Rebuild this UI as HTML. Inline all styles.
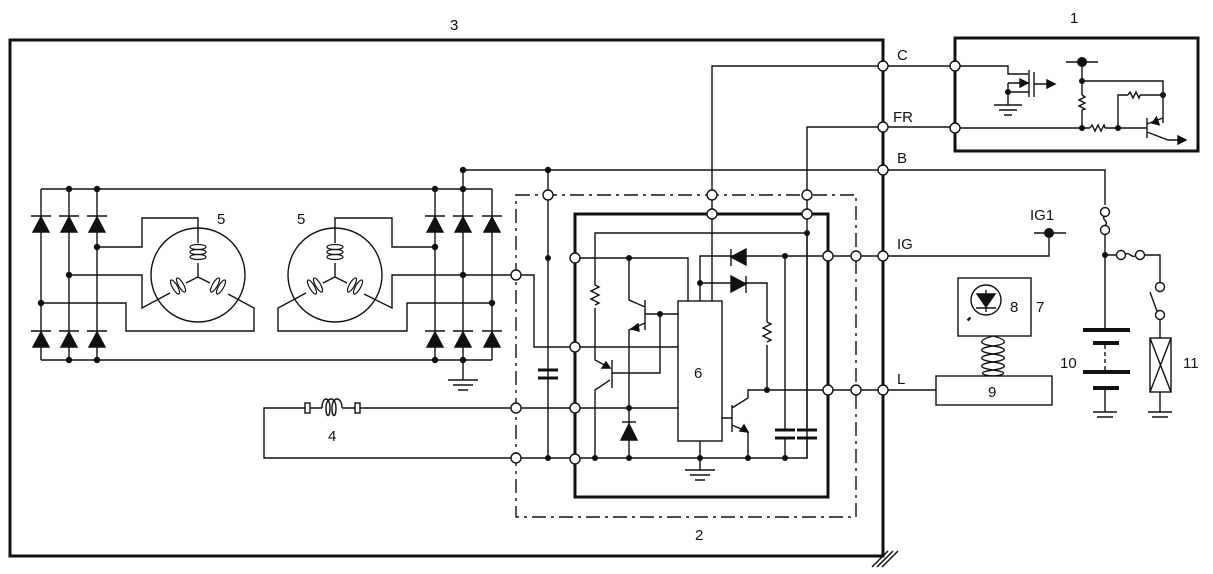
<!DOCTYPE html>
<html><head><meta charset="utf-8"><style>
html,body{margin:0;padding:0;background:#fff;}
svg{display:block;}
text{font-family:"Liberation Sans",sans-serif;font-size:15px;fill:#111;}
</style></head><body>
<svg width="1213" height="574" viewBox="0 0 1213 574" xmlns="http://www.w3.org/2000/svg">
<g fill="none" stroke="#111" stroke-width="1.4">
<rect x="10" y="40" width="873" height="516" stroke-width="3"/>
<path d="M877 567 L893 551 M882 567 L898 551 M872 567 L888 551" stroke-width="1.5"/>
<rect x="955" y="38" width="243" height="113" stroke-width="3"/>
<rect x="516" y="195" width="340" height="322" stroke-dasharray="14,5,3,5"/>
<rect x="575" y="214" width="253" height="283" stroke-width="3"/>

<path d="M712 301 V66 H953"/>
<path d="M807 214 V127 H953"/>
<path d="M463 189 V170 H1105 V205"/>
<path d="M883 256 H1049 V233 M1034 233 H1066"/>
<path d="M883 390 H936"/>

<path d="M41 189 H492 M41 360 H492"/>
<path d="M41 189 V360 M69 189 V360 M97 189 V360 M435 189 V360 M463 189 V360 M492 189 V360"/>
<path d="M463 360 V380 M448 380 H478 M453 385 H473 M458 390 H468"/>
<path d="M97 247 H142 V218 H198 V243"/>
<path d="M69 275 H142 V308 L170 293"/>
<path d="M41 303 H126 V331 H254 V308 L228 294"/>
<path d="M435 247 H392 V218 H335 V243"/>
<path d="M463 275 H392 V308 L364 294" />
<path d="M492 303 H407 V331 H278 V308 L306 293"/>
<path d="M463 275 H511"/>
<circle cx="198" cy="275" r="47"/>
<circle cx="335" cy="275" r="47"/>
<path d="M198 263 V277 L186 283 M198 277 L210 283"/>
<path d="M335 263 V277 L323 283 M335 277 L347 283"/>
<g stroke-width="1.2">
<ellipse cx="198" cy="247" rx="8" ry="2.5"/><ellipse cx="198" cy="252" rx="8" ry="2.5"/><ellipse cx="198" cy="257" rx="8" ry="2.5"/>
<ellipse cx="335" cy="247" rx="8" ry="2.5"/><ellipse cx="335" cy="252" rx="8" ry="2.5"/><ellipse cx="335" cy="257" rx="8" ry="2.5"/>
<ellipse cx="175" cy="287" rx="2.5" ry="8" transform="rotate(-30 175 287)"/><ellipse cx="181" cy="285" rx="2.5" ry="8" transform="rotate(-30 181 285)"/>
<ellipse cx="215" cy="285" rx="2.5" ry="8" transform="rotate(30 215 285)"/><ellipse cx="221" cy="287" rx="2.5" ry="8" transform="rotate(30 221 287)"/>
<ellipse cx="312" cy="287" rx="2.5" ry="8" transform="rotate(-30 312 287)"/><ellipse cx="318" cy="285" rx="2.5" ry="8" transform="rotate(-30 318 285)"/>
<ellipse cx="352" cy="285" rx="2.5" ry="8" transform="rotate(30 352 285)"/><ellipse cx="358" cy="287" rx="2.5" ry="8" transform="rotate(30 358 287)"/>
</g>
<path d="M511 408 H360 M305 408 H264 V458 H511"/>
<rect x="305" y="403" width="5" height="10"/><rect x="355" y="403" width="5" height="10"/>
<path d="M310 408 H322 M342 408 H355"/>
<path d="M322 408 C322 396 330 396 330 408 C330 418 326 418 326 408 C326 396 336 396 336 408 C336 418 332 418 332 408 C332 396 342 396 342 408"/>

<path d="M548 170 V458"/>
<path d="M538 370 H558 M538 378 H558" stroke-width="3"/>
<path d="M521 275 H534 V347 H678"/>
<path d="M521 408 H678 M521 458 H807 V233 H595 V285 M595 308 V360 L610 368 M612 360 V388 M610 380 L595 390 V458"/>
<path d="M595 285 l4 2 l-8 4 l8 4 l-8 4 l8 4 l-4 2"/>
<path d="M580 258 H688 V301"/>
<path d="M629 258 V300 L645 307 M645 300 V330 M645 323 L629 330 V458"/>
<path d="M645 314 H678 M660 314 V373 H612"/>
<rect x="678" y="301" width="44" height="140" fill="#fff"/>
<path d="M700 441 V470 M685 470 H715 M690 475 H710 M695 480 H705"/>
<path d="M883 256 H700 V301 M700 283 H767 V322 M767 345 V390"/>
<path d="M767 322 l4 2 l-8 4 l8 4 l-8 4 l8 4 l-4 2"/>
<path d="M883 390 H748 V398 L732 408 M732 405 V432 M722 418 H732 M732 425 L748 432 V458"/>
<path d="M785 256 V430 M785 438 V458"/>
<path d="M775 430 H795 M775 438 H795 M797 430 H817 M797 438 H817" stroke-width="3"/>
<path d="M807 438 V458 M807 214 V430"/>
<path d="M731 249 V266 M746 276 V293"/>
<path d="M622 422 H636"/>

<path d="M960 66 H1008 V74 H1028 M1029 70 V97 M1034 72 V97 M1034 84 H1048 M1008 83 H1028 M1008 83 V105 M1008 92 H1029 M994 105 H1022 M999 110 H1017 M1004 115 H1012"/>
<path d="M1066 62 H1098 M1082 62 V95 M1082 110 V128 M1082 81 H1163 V123 M960 128 H1090 M1105 128 H1147 M1118 128 V95 H1128 M1140 95 H1163 M1147 118 V138 M1147 132 L1168 140 H1180"/>
<path d="M1082 95 l3 2 l-6 3 l6 3 l-6 3 l6 3 l-3 1"/>
<path d="M1090 128 l2 -3 l3 6 l3 -6 l3 6 l3 -6 l1 3 M1128 95 l2 -3 l3 6 l3 -6 l3 6 l1 -3"/>
<path d="M1147 124 L1163 118"/>

<circle cx="1105" cy="212" r="4.5" fill="#fff"/><path d="M1105 216 C1100 219 1110 222 1105 225"/><circle cx="1105" cy="230" r="4.5" fill="#fff"/>
<path d="M1105 235 V330 M1105 255 H1117"/>
<circle cx="1121" cy="255" r="4.5" fill="#fff"/><path d="M1125 255 C1129 250 1132 260 1136 255"/><circle cx="1140" cy="255" r="4.5" fill="#fff"/>
<path d="M1145 255 H1160 V282"/>
<circle cx="1160" cy="287" r="4.5" fill="#fff"/><path d="M1158 314 L1150 292"/><circle cx="1160" cy="315" r="4.5" fill="#fff"/>
<path d="M1160 320 V338 M1160 392 V412 M1148 412 H1172 M1152 417 H1168"/>
<rect x="1150" y="338" width="21" height="54"/><path d="M1150 338 L1171 392 M1171 338 L1150 392"/>
<path d="M1083 330 H1130 M1093 343 H1119 M1083 372 H1130 M1093 388 H1119" stroke-width="4"/>
<path d="M1105 345 V370" stroke-dasharray="4,3"/>
<path d="M1105 388 V412 M1093 412 H1117 M1097 417 H1113"/>
<rect x="958" y="278" width="73" height="58"/>
<circle cx="986" cy="300" r="15"/>
<path d="M976 308 H996 M986 290 V312"/>
<polygon points="977,294 995,294 986,307" fill="#111"/>
<path d="M967 320 l3 -3 l-2 4 l3 -3" stroke-width="1"/>
<path d="M993 336 C1008 340 1008 344 993 346 C978 348 978 352 993 354 C1008 356 1008 360 993 362 C978 364 978 368 993 370 C1008 372 1006 375 993 376 M993 336 C978 340 978 344 993 346 C1008 348 1008 352 993 354 C978 356 978 360 993 362 C1008 364 1008 368 993 370 C978 372 980 375 993 376"/>
<rect x="936" y="376" width="116" height="29" fill="#fff"/>
</g>

<g fill="#111" stroke="#111" stroke-width="1.4">
<polygon points="33,232 49,232 41,217"/><polygon points="61,232 77,232 69,217"/><polygon points="89,232 105,232 97,217"/>
<polygon points="427,232 443,232 435,217"/><polygon points="455,232 471,232 463,217"/><polygon points="484,232 500,232 492,217"/>
<polygon points="33,347 49,347 41,332"/><polygon points="61,347 77,347 69,332"/><polygon points="89,347 105,347 97,332"/>
<polygon points="427,347 443,347 435,332"/><polygon points="455,347 471,347 463,332"/><polygon points="484,347 500,347 492,332"/>
<path d="M31 216 H51 M59 216 H79 M87 216 H107 M425 216 H445 M453 216 H473 M482 216 H502 M31 331 H51 M59 331 H79 M87 331 H107 M425 331 H445 M453 331 H473 M482 331 H502" fill="none"/>
<polygon points="621,440 637,440 629,424"/>
<polygon points="731,257 746,249 746,265"/>
<polygon points="731,276 731,292 746,284"/>
<polygon points="610,368 602,368 606,362"/>
<polygon points="631,329 638,324 639,331"/>
<polygon points="748,432 740,431 744,425"/>
<polygon points="1055,84 1047,80 1047,88"/>
<polygon points="1028,83 1020,79 1020,87"/>
<polygon points="1186,140 1178,136 1178,144"/>
<polygon points="1152,122 1158,118 1158,126" transform="rotate(-20 1155 122)"/>
<g stroke="none">
<circle cx="69" cy="189" r="3.2"/><circle cx="97" cy="189" r="3.2"/><circle cx="435" cy="189" r="3.2"/><circle cx="463" cy="189" r="3.2"/>
<circle cx="69" cy="360" r="3.2"/><circle cx="97" cy="360" r="3.2"/><circle cx="435" cy="360" r="3.2"/><circle cx="463" cy="360" r="3.2"/>
<circle cx="97" cy="247" r="3.2"/><circle cx="69" cy="275" r="3.2"/><circle cx="41" cy="303" r="3.2"/>
<circle cx="435" cy="247" r="3.2"/><circle cx="463" cy="275" r="3.2"/><circle cx="492" cy="303" r="3.2"/>
<circle cx="463" cy="170" r="3.2"/><circle cx="548" cy="170" r="3.2"/>
<circle cx="548" cy="258" r="3"/><circle cx="548" cy="458" r="3"/><circle cx="595" cy="458" r="3"/><circle cx="629" cy="458" r="3"/><circle cx="700" cy="458" r="3"/><circle cx="748" cy="458" r="3"/><circle cx="785" cy="458" r="3"/>
<circle cx="629" cy="258" r="3"/><circle cx="629" cy="408" r="3"/><circle cx="660" cy="314" r="3"/><circle cx="807" cy="233" r="3"/>
<circle cx="785" cy="256" r="3"/><circle cx="700" cy="283" r="3"/><circle cx="767" cy="390" r="3"/>
<circle cx="1049" cy="233" r="5"/><circle cx="1105" cy="255" r="3"/>
<circle cx="1082" cy="62" r="5"/><circle cx="1082" cy="81" r="3"/><circle cx="1082" cy="128" r="3"/><circle cx="1118" cy="128" r="3"/><circle cx="1163" cy="95" r="3"/><circle cx="1008" cy="92" r="3"/>
</g>
</g>
<g fill="#fff" stroke="#111" stroke-width="1.4">
<circle cx="883" cy="66" r="5"/><circle cx="883" cy="127" r="5"/><circle cx="883" cy="170" r="5"/><circle cx="883" cy="256" r="5"/><circle cx="883" cy="390" r="5"/>
<circle cx="955" cy="66" r="5"/><circle cx="955" cy="128" r="5"/>
<circle cx="856" cy="256" r="5"/><circle cx="856" cy="390" r="5"/><circle cx="828" cy="256" r="5"/><circle cx="828" cy="390" r="5"/>
<circle cx="548" cy="195" r="5"/><circle cx="712" cy="195" r="5"/><circle cx="807" cy="195" r="5"/>
<circle cx="712" cy="214" r="5"/><circle cx="807" cy="214" r="5"/>
<circle cx="516" cy="275" r="5"/><circle cx="516" cy="408" r="5"/><circle cx="516" cy="458" r="5"/>
<circle cx="575" cy="258" r="5"/><circle cx="575" cy="347" r="5"/><circle cx="575" cy="408" r="5"/><circle cx="575" cy="459" r="5"/>
</g>
<text x="450" y="30">3</text><text x="1070" y="23">1</text>
<text x="897" y="60">C</text><text x="893" y="122">FR</text><text x="897" y="163">B</text><text x="897" y="249">IG</text><text x="897" y="384">L</text>
<text x="1030" y="220">IG1</text>
<text x="217" y="224">5</text><text x="297" y="224">5</text>
<text x="328" y="441">4</text><text x="694" y="378" font-size="17">6</text>
<text x="695" y="540">2</text>
<text x="1010" y="312">8</text><text x="1036" y="312">7</text>
<text x="988" y="397">9</text><text x="1060" y="368">10</text><text x="1183" y="368">11</text>
</svg>
</body></html>
